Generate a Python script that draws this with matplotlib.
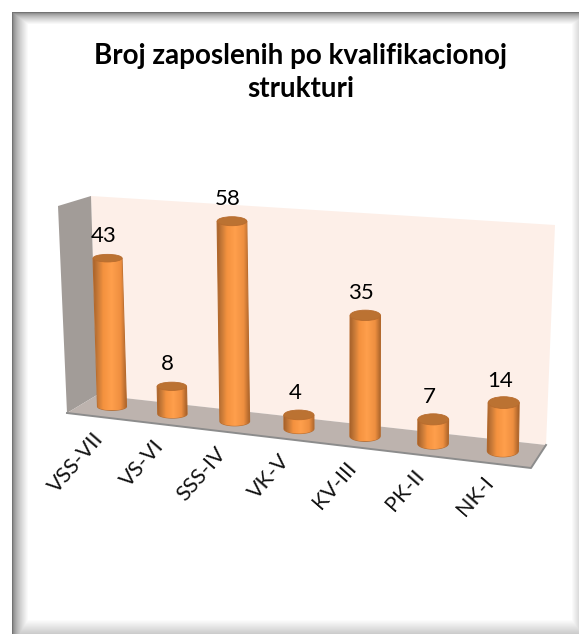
import numpy as np
import matplotlib
matplotlib.use('Agg')
from matplotlib import pyplot as plt
from matplotlib.colors import LinearSegmentedColormap
from matplotlib.patches import Ellipse, Polygon, PathPatch
from matplotlib.path import Path

categories = ['VSS-VII', 'VS-VI', 'SSS-IV', 'VK-V', 'KV-III', 'PK-II', 'NK-I']
values = [43, 8, 58, 4, 35, 7, 14]
title = 'Broj zaposlenih po kvalifikacionoj\nstrukturi'

W, H = 579, 634
plt.rcParams['font.family'] = ['Lato', 'DejaVu Sans']

fig = plt.figure(figsize=(W / 100, H / 100), dpi=100)
ax = fig.add_axes([0, 0, 1, 1])
ax.set_xlim(0, W)
ax.set_ylim(H, 0)
ax.axis('off')


def project(i, v):
    """Category index and value to picture position, the chart is a tilted 3D box."""
    x0 = 112 + 59.5 * i + 0.94 * i * i
    y0 = 406.5 + 7.4 * i
    lean = -0.03 + 0.008 * i
    return x0 + lean * v * 3.45, y0 - 3.45 * v


# frame with the soft inner shadow
yy, xx = np.mgrid[0:H, 0:W]
shade = np.ones((H, W))
shade = np.minimum(shade, 0.45 + 0.55 * np.clip((xx - 12) / 16, 0, 1) ** 0.6)
shade = np.minimum(shade, 0.45 + 0.55 * np.clip((yy - 12) / 12, 0, 1) ** 0.6)
shade = np.minimum(shade, 0.86 + 0.14 * np.clip((W - 1 - xx) / 7, 0, 1))
shade = np.minimum(shade, 0.80 + 0.20 * np.clip((H - 1 - yy) / 14, 0, 1))
shade[:12, :] = 1
shade[:, :12] = 1
ax.imshow(shade, cmap='gray', vmin=0, vmax=1, extent=(0, W, H, 0), zorder=0, aspect='auto')

# walls and floor
ax.add_patch(Polygon([(91, 196), (555, 225), (546, 445), (97, 395)], fc='#fdefe8', ec='none', zorder=1))
ax.add_patch(Polygon([(58, 206), (91, 196), (97, 395), (67, 413)], fc='#a29c98', ec='none', zorder=1))
ax.add_patch(Polygon([(67, 413), (97, 395), (546, 445), (531, 468)], fc='#bdb3ae', ec='none', zorder=1))
ax.plot([67, 531, 546], [413, 468, 445], color='#8c8c8c', lw=1.4, zorder=2)

body_cmap = LinearSegmentedColormap.from_list(
    'cyl', [(0, '#a8622a'), (0.14, '#c87a38'), (0.3, '#f4923f'), (0.55, '#ff9f4c'),
            (0.82, '#ee8f40'), (1, '#a8622a')])
grad = np.linspace(0, 1, 64).reshape(1, -1)

for i, (cat, v) in enumerate(zip(categories, values)):
    bx, by = project(i, 0)
    tx, ty = project(i, v)
    half = 14.5 + 0.17 * i
    rim = 3.8 + 0.35 * i  # the ellipses open up towards the right side

    verts = [(tx - half, ty), (bx - half, by)]
    verts += [(bx + half * np.cos(a), by + rim * np.sin(a)) for a in np.linspace(np.pi, 0, 30)]
    verts += [(tx + half, ty), (tx - half, ty)]
    clip = PathPatch(Path(verts), fc='none', ec='#b86c2e', lw=0.8, zorder=3)
    ax.add_patch(clip)
    im = ax.imshow(grad, cmap=body_cmap, extent=(min(tx, bx) - half, max(tx, bx) + half, by + rim, ty),
                   aspect='auto', zorder=3)
    im.set_clip_path(clip)
    ax.add_patch(Ellipse((tx, ty), 2 * half, 2 * rim, fc='#bb7232', ec='#b86c2e', lw=0.6, zorder=4))

    ax.text(tx - 4, ty - 22, str(v), ha='center', va='center', fontsize=16, color='black', zorder=5)
    ax.text(bx - 20, by + 22, cat, rotation=49, rotation_mode='anchor', ha='right', va='top',
            fontsize=15.5, color='#111111', zorder=5)

ax.set_xlim(0, W)
ax.set_ylim(H, 0)
ax.text(301, 72.5, title, ha='center', va='center', fontsize=20, fontweight='bold',
        color='black', linespacing=1.3, zorder=5)

fig.savefig('out.png', dpi=100)
